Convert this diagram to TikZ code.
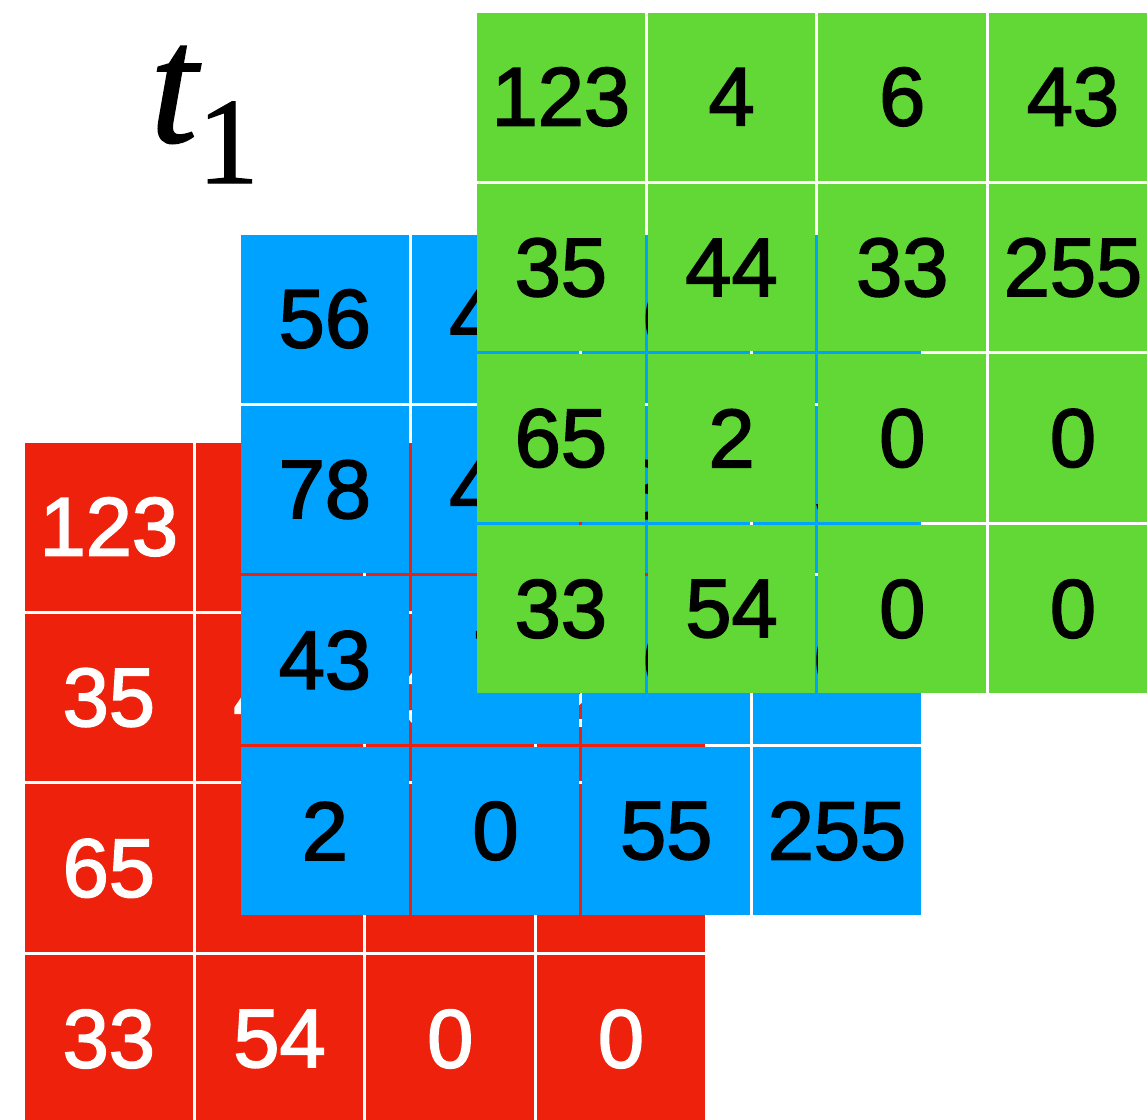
\documentclass[tikz,border=0pt]{standalone}
\usepackage{fontspec}
\newfontfamily\cellfont[FakeBold=2]{Liberation Sans}
\newfontfamily\labfont[FakeBold=1]{Liberation Serif}
\definecolor{kred}{HTML}{EE220C}
\definecolor{kblue}{HTML}{00A2FF}
\definecolor{kgreen}{HTML}{61D836}
\tikzset{
  cell/.style={minimum width=167.7pt, minimum height=167.7pt, inner sep=0pt, outer sep=0pt,
    font=\cellfont\fontsize{83}{83}\selectfont, anchor=north west, draw=none},
  redcell/.style={cell, fill=kred, text=white},
  bluecell/.style={cell, fill=kblue, text=black},
  greencell/.style={cell, fill=kgreen, text=black}
}
\begin{document}
\begin{tikzpicture}[x=1pt,y=-1pt]
\useasboundingbox (0,0) rectangle (1147,1119);
\clip (0,0) rectangle (1147,1119);
\fill[white] (0,0) rectangle (1147,1119);
% red grid
\foreach \row [count=\i from 0] in {{123,4,6,43},{35,44,33,255},{65,2,0,0},{33,54,0,0}} {
  \foreach \v [count=\j from 0] in \row {
    \node[redcell] (r\i\j) at ({25+170.7*\j},{443+170.7*\i}) {\v};
  }
}
% blue grid
\foreach \row [count=\i from 0] in {{56,45,0,1},{78,44,35,5},{43,7,0,0},{2,0,55,255}} {
  \foreach \v [count=\j from 0] in \row {
    \node[bluecell] (b\i\j) at ({241+170.7*\j},{235+170.7*\i}) {\v};
  }
}
% green grid
\foreach \row [count=\i from 0] in {{123,4,6,43},{35,44,33,255},{65,2,0,0},{33,54,0,0}} {
  \foreach \v [count=\j from 0] in \row {
    \node[greencell] (g\i\j) at ({477+170.7*\j},{13+170.7*\i}) {\v};
  }
}
% label
\node[anchor=base west, inner sep=0pt] (lab) at (150,142)
  {\labfont\fontsize{170}{170}\selectfont\itshape t\upshape\fontsize{123}{123}\selectfont\raisebox{-41pt}{1}};
\end{tikzpicture}
\end{document}
